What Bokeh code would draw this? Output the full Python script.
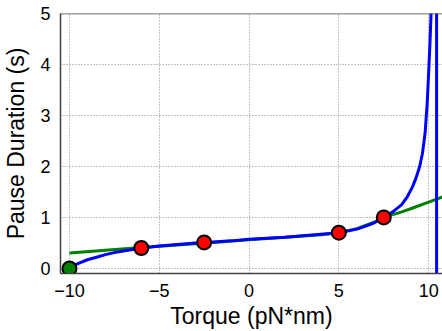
from bokeh.plotting import figure
from bokeh.models import Range1d, Span, FixedTicker
from bokeh.embed import file_html
from bokeh.resources import INLINE

# Blue model curve
blue_x = [-10.0, -9.5, -9.0, -8.5, -8.0, -7.5, -7.0, -6.5, -6.0, -5.0, -4.0, -3.0, -2.0, -1.0,
          0.0, 1.0, 2.0, 3.0, 4.0, 5.0, 6.0, 6.5, 7.0, 7.5, 8.0, 8.5, 8.8, 9.1, 9.3, 9.5, 9.65, 9.8,
          9.92, 10.0, 10.07, 10.14, 10.25, 10.35, 10.42, 10.44, 10.441, 10.77]
blue_y = [0.02, 0.10, 0.17, 0.22, 0.27, 0.31, 0.34, 0.37, 0.40, 0.44, 0.47, 0.50, 0.52, 0.54,
          0.57, 0.59, 0.61, 0.64, 0.67, 0.70, 0.77, 0.83, 0.90, 1.00, 1.11, 1.25, 1.40, 1.60, 1.78, 2.00, 2.25, 2.65,
          3.25, 3.85, 4.40, 5.05, 7.0, 15.0, 60.0, 1000.0, -1000.0, -20.0]

# Green fit curve
green_x = [-10.0, -8.0, -6.0, -4.0, -2.0, 0.0, 2.0, 4.0, 5.0, 6.0, 7.0, 7.5, 8.5, 9.0, 10.0, 10.77]
green_y = [0.30, 0.355, 0.41, 0.46, 0.51, 0.56, 0.61, 0.66, 0.70, 0.78, 0.91, 1.00, 1.11, 1.17, 1.30, 1.40]

# Measured points
red_x = [-6.0, -2.5, 5.0, 7.5]
red_y = [0.40, 0.51, 0.70, 1.00]
green_pt_x = [-10.0]
green_pt_y = [0.0]

x_ticks = [-10, -5, 0, 5, 10]
y_ticks = [0, 1, 2, 3, 4, 5]

FONT = "Liberation Sans"

p = figure(width=442, height=331, output_backend="svg", toolbar_location=None,
           x_range=Range1d(-10.5, 10.77), y_range=Range1d(-0.1, 5.0),
           min_border_left=56, min_border_right=0, min_border_top=13, min_border_bottom=58)

p.outline_line_color = None
p.background_fill_color = "white"
p.border_fill_color = "white"

for ax in (p.xaxis[0], p.yaxis[0]):
    ax.axis_line_color = "#404040"
    ax.axis_line_width = 1.5
    ax.major_tick_line_color = None
    ax.minor_tick_line_color = None
    ax.major_label_text_font = FONT
    ax.major_label_text_font_size = "18px"
    ax.major_label_text_color = "black"
    ax.axis_label_text_font = FONT
    ax.axis_label_text_font_size = "23px"
    ax.axis_label_text_font_style = "normal"
    ax.axis_label_text_color = "black"
    ax.major_label_standoff = 4

p.xaxis.ticker = FixedTicker(ticks=x_ticks)
p.yaxis.ticker = FixedTicker(ticks=y_ticks)
p.xaxis.major_label_overrides = {t: ("\u2212" + str(abs(t)) if t < 0 else str(t)) for t in x_ticks}
p.xaxis.axis_label = "Torque (pN*nm)"
p.yaxis.axis_label = "Pause Duration (s)"
p.xaxis.axis_label_standoff = 3
p.yaxis.axis_label_standoff = 8

for g in (p.xgrid[0], p.ygrid[0]):
    g.grid_line_color = "#888888"
    g.grid_line_dash = "1 2"
    g.grid_line_width = 1
p.xgrid.ticker = FixedTicker(ticks=x_ticks)
p.ygrid.ticker = FixedTicker(ticks=y_ticks)

p.add_layout(Span(location=5.0, dimension="width", line_color="#404040", line_width=1.5))

p.line(green_x, green_y, line_color="#008000", line_width=3)
p.line(blue_x, blue_y, line_color="#0000ff", line_width=3)
p.scatter(red_x, red_y, size=14, fill_color="#ff0000", line_color="black", line_width=2)
p.scatter(green_pt_x, green_pt_y, size=14, fill_color="#008000", line_color="black", line_width=2)

open("out.html", "w").write(file_html(p, INLINE))
